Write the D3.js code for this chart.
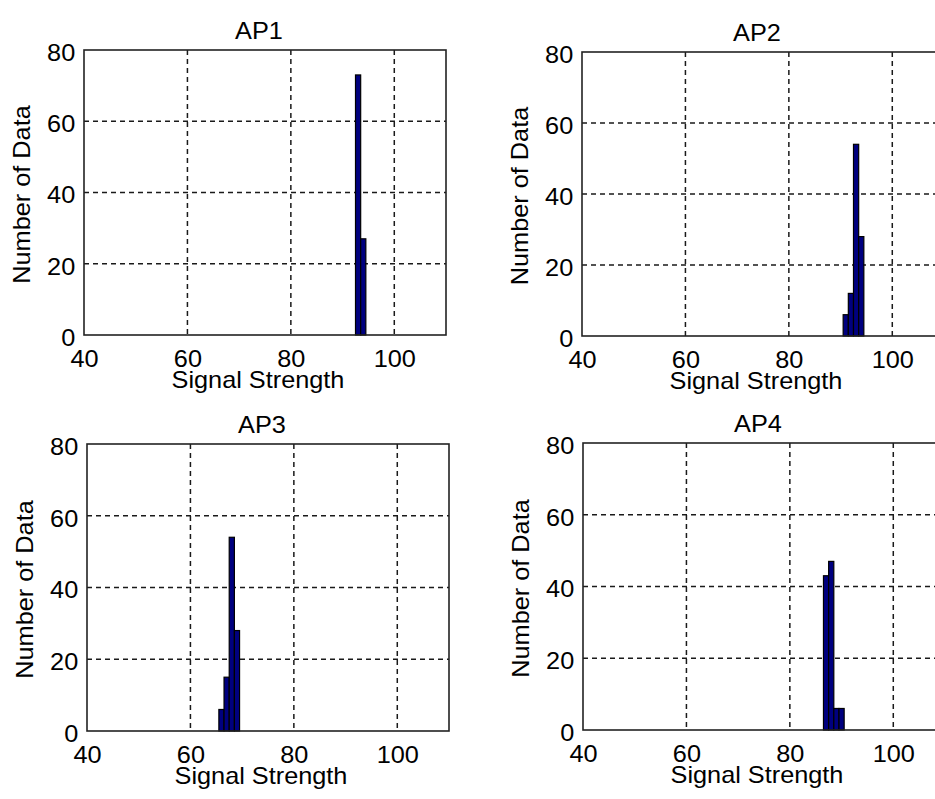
<!DOCTYPE html>
<html>
<head>
<meta charset="utf-8">
<script src="https://cdn.jsdelivr.net/npm/d3@7"></script>
<style>
  html, body { margin: 0; padding: 0; background: #fff; }
  svg { display: block; }
  text { font-family: "Liberation Sans", Arial, sans-serif; fill: #000; }
</style>
</head>
<body>
<svg id="chart" width="935" height="799"></svg>
<script>
// ---- data ----
const titles = ["AP1", "AP2", "AP3", "AP4"];
const ap1Centers = [93, 94];
const ap1Counts  = [73, 27];
const ap2Centers = [91, 92, 93, 94];
const ap2Counts  = [6, 12, 54, 28];
const ap3Centers = [66, 67, 68, 69];
const ap3Counts  = [6, 15, 54, 28];
const ap4Centers = [87, 88, 89, 90];
const ap4Counts  = [43, 47, 6, 6];
const xTicks = [40, 60, 80, 100];
const yTicks = [0, 20, 40, 60, 80];
const xDomain = [40, 110];
const yDomain = [0, 80];
const binWidth = 1;
const xLabel = "Signal Strength";
const yLabel = "Number of Data";

const panels = [
  { title: titles[0], centers: ap1Centers, counts: ap1Counts, box: [84, 50, 362, 285] },
  { title: titles[1], centers: ap2Centers, counts: ap2Counts, box: [582, 52, 362, 284] },
  { title: titles[2], centers: ap3Centers, counts: ap3Counts, box: [87, 444, 362, 287] },
  { title: titles[3], centers: ap4Centers, counts: ap4Counts, box: [583, 443, 362, 287] }
];

const svg = d3.select("#chart");
const FS = 23;
const SX = 1.1; // horizontal stretch of the reference's text rendering

function stretchedText(g, x, y, rot, str) {
  const t = g.append("g").attr("transform", `translate(${x},${y})` + (rot ? ` rotate(${rot})` : "") + ` scale(${SX},1)`);
  t.append("text").attr("text-anchor", "middle").attr("font-size", FS).text(str);
}

panels.forEach(p => {
  const [L, T, W, H] = p.box;
  const x = d3.scaleLinear().domain(xDomain).range([L, L + W]);
  const y = d3.scaleLinear().domain(yDomain).range([T + H, T]);
  const g = svg.append("g");

  // grid lines
  g.selectAll("line.vg").data(xTicks.filter(v => v > xDomain[0])).enter().append("line")
    .attr("x1", d => x(d)).attr("x2", d => x(d))
    .attr("y1", T).attr("y2", T + H)
    .attr("stroke", "#1a1a1a").attr("stroke-width", 1.5).attr("stroke-dasharray", "5,4");
  g.selectAll("line.hg").data(yTicks.filter(v => v > yDomain[0] && v < yDomain[1])).enter().append("line")
    .attr("x1", L).attr("x2", L + W)
    .attr("y1", d => y(d)).attr("y2", d => y(d))
    .attr("stroke", "#1a1a1a").attr("stroke-width", 1.5).attr("stroke-dasharray", "5,4");

  // bars
  const data = p.centers.map((c, i) => ({ c, n: p.counts[i] }));
  g.selectAll("rect.bar").data(data).enter().append("rect")
    .attr("x", d => x(d.c - binWidth / 2))
    .attr("width", d => x(d.c + binWidth / 2) - x(d.c - binWidth / 2))
    .attr("y", d => y(d.n))
    .attr("height", d => y(0) - y(d.n))
    .attr("fill", "#00007f").attr("stroke", "#000").attr("stroke-width", 1.2);

  // frame
  g.append("rect").attr("x", L).attr("y", T).attr("width", W).attr("height", H)
    .attr("fill", "none").attr("stroke", "#222").attr("stroke-width", 1.6);

  // axes (labels only)
  const xa = g.append("g").attr("transform", `translate(0,${T + H})`)
    .call(d3.axisBottom(x).tickValues(xTicks).tickSize(0).tickPadding(0));
  xa.select(".domain").remove();
  xa.selectAll("text").attr("font-size", FS).attr("dy", null).attr("y", 32)
    .attr("transform", `scale(${SX},1)`)
    .style("font-family", "Liberation Sans, Arial, sans-serif").attr("fill", "#000");

  const ya = g.append("g").attr("transform", `translate(${L},0)`)
    .call(d3.axisLeft(y).tickValues(yTicks).tickSize(0).tickPadding(0));
  ya.select(".domain").remove();
  ya.selectAll("text").attr("font-size", FS).attr("x", -8).attr("dy", "0.45em")
    .attr("transform", `scale(${SX},1)`)
    .style("font-family", "Liberation Sans, Arial, sans-serif").attr("fill", "#000");

  // title
  stretchedText(g, L + W / 2 - 6, T - 11, 0, p.title);
  // x label
  stretchedText(g, L + W / 2 - 7, T + H + 53, 0, xLabel);
  // y label
  g.append("g").attr("transform", `translate(${L - 54},${T + H / 2 + 2}) rotate(-90) scale(${SX},1)`)
    .append("text").attr("text-anchor", "middle").attr("font-size", FS).text(yLabel);
});
</script>
</body>
</html>
